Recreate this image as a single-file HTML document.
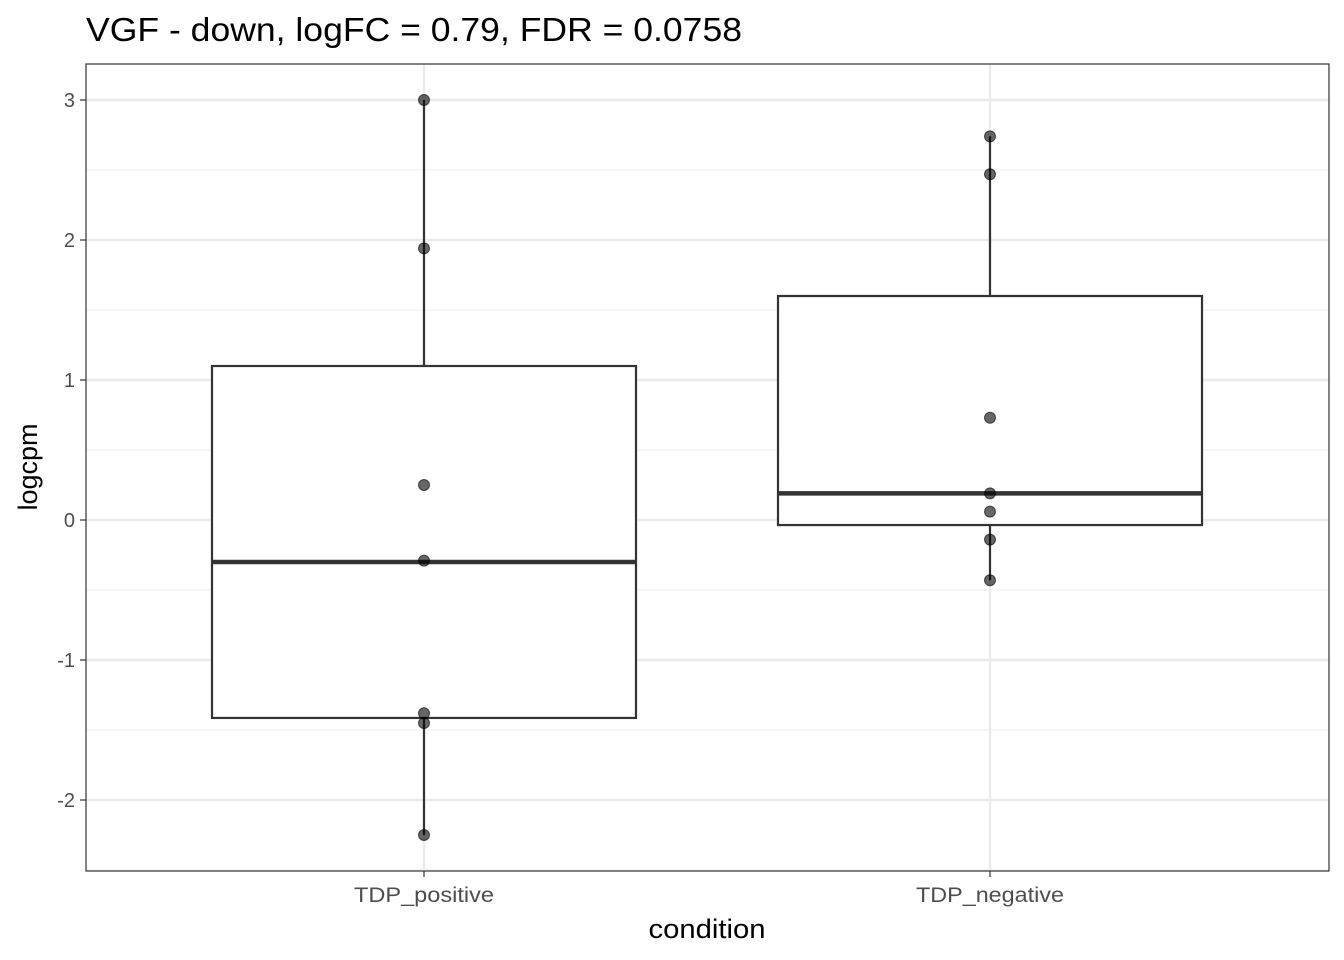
<!DOCTYPE html>
<html><head><meta charset="utf-8"><style>
body{margin:0;background:#fff}
svg{display:block;font-family:"Liberation Sans",Arial,sans-serif}
</style></head><body>
<svg id="c" width="1344" height="960">
<text x="86" y="41" font-size="33" fill="#000" textLength="656" lengthAdjust="spacingAndGlyphs">VGF - down, logFC = 0.79, FDR = 0.0758</text>
<g id="grid"></g>
<g id="marks"></g>
<rect x="86" y="64" width="1243" height="807" fill="none" stroke="#333" stroke-width="1.2"/>
<g id="axes"></g>
<text x="707" y="938" font-size="27" text-anchor="middle" textLength="117" lengthAdjust="spacingAndGlyphs">condition</text>
<text transform="translate(37,467) rotate(-90)" font-size="27" text-anchor="middle">logcpm</text>
</svg>
<script>
const categories=["TDP_positive","TDP_negative"];
const pointsPos=[3.0,1.94,0.25,-0.29,-1.38,-1.45,-2.25];
const pointsNeg=[2.74,2.47,0.73,0.19,0.06,-0.14,-0.43];
const q1=[-1.414,-0.036];
const q3=[1.1,1.6];
const medians=[-0.3,0.19];
const whiskLo=[-2.25,-0.43];
const whiskHi=[3.0,2.74];
const yTicks=[-2,-1,0,1,2,3];
const yMinor=[-2.5,-1.5,-0.5,0.5,1.5,2.5];
const NS="http://www.w3.org/2000/svg";
const Y=v=>520-140*v;
const X=i=>424+566*i;
const HW=212;
function mk(p,t,a){const e=document.createElementNS(NS,t);for(const k in a)e.setAttribute(k,a[k]);p.appendChild(e);return e;}
const grid=document.getElementById('grid'),marks=document.getElementById('marks'),axes=document.getElementById('axes');
yMinor.forEach(v=>{if(Y(v)<64||Y(v)>871)return;const l=mk(grid,'line',{x1:86,x2:1329,y1:Y(v),y2:Y(v),stroke:'#f0f0f0','stroke-width':1.2});

});
yTicks.forEach(v=>{const l=mk(grid,'line',{x1:86,x2:1329,y1:Y(v),y2:Y(v),stroke:'#ebebeb','stroke-width':2.4});


const t=mk(axes,'line',{x1:80,x2:86,y1:Y(v),y2:Y(v),stroke:'#333','stroke-width':1.2});


const tx=mk(axes,'text',{x:75,y:Y(v)+7,'font-size':20,'text-anchor':'end',fill:'#4d4d4d'});tx.textContent=v;

});
categories.forEach((c,i)=>{const l=mk(grid,'line',{x1:X(i),x2:X(i),y1:64,y2:871,stroke:'#ebebeb','stroke-width':2.4});


const t=mk(axes,'line',{x1:X(i),x2:X(i),y1:871,y2:877,stroke:'#333','stroke-width':1.2});


const tx=mk(axes,'text',{x:X(i),y:902,'font-size':21,'text-anchor':'middle',fill:'#4d4d4d',textLength:(i===0?140:148),lengthAdjust:'spacingAndGlyphs'});tx.textContent=c;


const w1=mk(marks,'line',{x1:X(i),x2:X(i),y1:Y(whiskHi[i]),y2:Y(q3[i]),stroke:'#333','stroke-width':2.2});


const w2=mk(marks,'line',{x1:X(i),x2:X(i),y1:Y(q1[i]),y2:Y(whiskLo[i]),stroke:'#333','stroke-width':2.2});


const b=mk(marks,'rect',{x:X(i)-HW,y:Y(q3[i]),width:2*HW,height:Y(q1[i])-Y(q3[i]),fill:'#fff',stroke:'#333','stroke-width':2.2});


const m=mk(marks,'line',{x1:X(i)-HW,x2:X(i)+HW,y1:Y(medians[i]),y2:Y(medians[i]),stroke:'#333','stroke-width':4.5});


(i===0?pointsPos:pointsNeg).forEach(v=>{const p=mk(marks,'circle',{cx:X(i),cy:Y(v),r:5.5,fill:'#000','fill-opacity':0.6,stroke:'#000','stroke-opacity':0.6});

});
});
</script>
</body></html>
